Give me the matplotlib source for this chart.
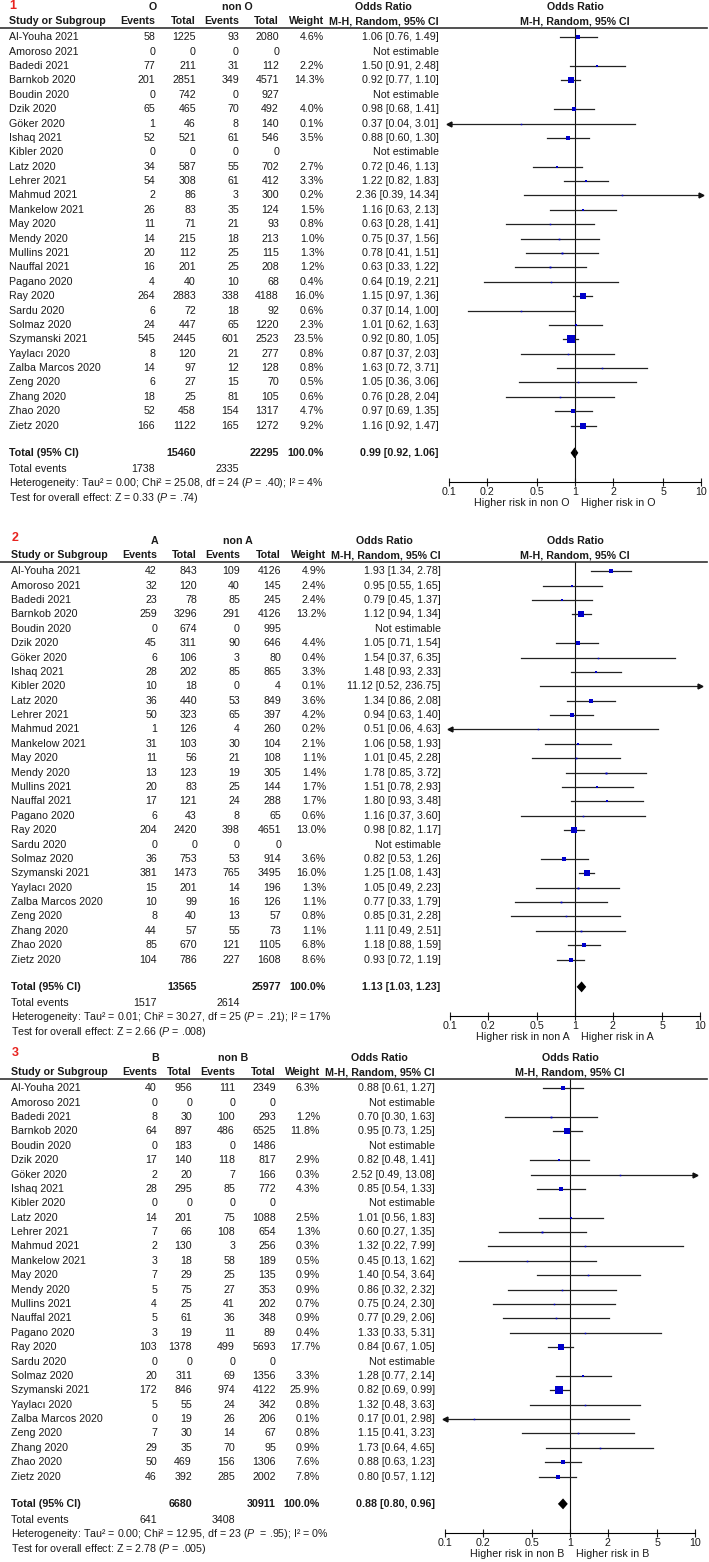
import matplotlib
matplotlib.use('Agg')
import matplotlib.pyplot as plt
import matplotlib.transforms as mtrans
import numpy as np

plt.rcParams['font.family'] = ['Liberation Sans', 'DejaVu Sans']
plt.rcParams['mathtext.fontset'] = 'custom'
plt.rcParams['mathtext.rm'] = 'Liberation Sans'
plt.rcParams['mathtext.it'] = 'Liberation Sans:italic'

# ---- data ----
studies = ["Al-Youha 2021", "Amoroso 2021", "Badedi 2021", "Barnkob 2020", "Boudin 2020",
           "Dzik 2020", "Göker 2020", "Ishaq 2021", "Kibler 2020", "Latz 2020",
           "Lehrer 2021", "Mahmud 2021", "Mankelow 2021", "May 2020", "Mendy 2020",
           "Mullins 2021", "Nauffal 2021", "Pagano 2020", "Ray 2020", "Sardu 2020",
           "Solmaz 2020", "Szymanski 2021", "Yaylacı 2020", "Zalba Marcos 2020", "Zeng 2020",
           "Zhang 2020", "Zhao 2020", "Zietz 2020"]

# panel 1: O vs non O
o_ev = [58, 0, 77, 201, 0, 65, 1, 52, 0, 34, 54, 2, 26, 11, 14, 20, 16, 4, 264, 6, 24, 545, 8, 14, 6, 18, 52, 166]
o_tot = [1225, 0, 211, 2851, 742, 465, 46, 521, 0, 587, 308, 86, 83, 71, 215, 112, 201, 40, 2883, 72, 447, 2445, 120, 97, 27, 25, 458, 1122]
nono_ev = [93, 0, 31, 349, 0, 70, 8, 61, 0, 55, 61, 3, 35, 21, 18, 25, 25, 10, 338, 18, 65, 601, 21, 12, 15, 81, 154, 165]
nono_tot = [2080, 0, 112, 4571, 927, 492, 140, 546, 0, 702, 412, 300, 124, 93, 213, 115, 208, 68, 4188, 92, 1220, 2523, 277, 128, 70, 105, 1317, 1272]
o_w = [4.6, None, 2.2, 14.3, None, 4.0, 0.1, 3.5, None, 2.7, 3.3, 0.2, 1.5, 0.8, 1.0, 1.3, 1.2, 0.4, 16.0, 0.6, 2.3, 23.5, 0.8, 0.8, 0.5, 0.6, 4.7, 9.2]
o_or = [1.06, None, 1.50, 0.92, None, 0.98, 0.37, 0.88, None, 0.72, 1.22, 2.36, 1.16, 0.63, 0.75, 0.78, 0.63, 0.64, 1.15, 0.37, 1.01, 0.92, 0.87, 1.63, 1.05, 0.76, 0.97, 1.16]
o_lo = [0.76, None, 0.91, 0.77, None, 0.68, 0.04, 0.60, None, 0.46, 0.82, 0.39, 0.63, 0.28, 0.37, 0.41, 0.33, 0.19, 0.97, 0.14, 0.62, 0.80, 0.37, 0.72, 0.36, 0.28, 0.69, 0.92]
o_hi = [1.49, None, 2.48, 1.10, None, 1.41, 3.01, 1.30, None, 1.13, 1.83, 14.34, 2.13, 1.41, 1.56, 1.51, 1.22, 2.21, 1.36, 1.00, 1.63, 1.05, 2.03, 3.71, 3.06, 2.04, 1.35, 1.47]
o_total = [15460, 22295, 1738, 2335]
o_pooled = [0.99, 0.92, 1.06]
o_het = "Heterogeneity: Tau² = 0.00; Chi² = 25.08, df = 24 ($P$ = .40); I² = 4%"
o_test = "Test for overall effect: Z = 0.33 ($P$ = .74)"

# panel 2: A vs non A
a_ev = [42, 32, 23, 259, 0, 45, 6, 28, 10, 36, 50, 1, 31, 11, 13, 20, 17, 6, 204, 0, 36, 381, 15, 10, 8, 44, 85, 104]
a_tot = [843, 120, 78, 3296, 674, 311, 106, 202, 18, 440, 323, 126, 103, 56, 123, 83, 121, 43, 2420, 0, 753, 1473, 201, 99, 40, 57, 670, 786]
nona_ev = [109, 40, 85, 291, 0, 90, 3, 85, 0, 53, 65, 4, 30, 21, 19, 25, 24, 8, 398, 0, 53, 765, 14, 16, 13, 55, 121, 227]
nona_tot = [4126, 145, 245, 4126, 995, 646, 80, 865, 4, 849, 397, 260, 104, 108, 305, 144, 288, 65, 4651, 0, 914, 3495, 196, 126, 57, 73, 1105, 1608]
a_w = [4.9, 2.4, 2.4, 13.2, None, 4.4, 0.4, 3.3, 0.1, 3.6, 4.2, 0.2, 2.1, 1.1, 1.4, 1.7, 1.7, 0.6, 13.0, None, 3.6, 16.0, 1.3, 1.1, 0.8, 1.1, 6.8, 8.6]
a_or = [1.93, 0.95, 0.79, 1.12, None, 1.05, 1.54, 1.48, 11.12, 1.34, 0.94, 0.51, 1.06, 1.01, 1.78, 1.51, 1.80, 1.16, 0.98, None, 0.82, 1.25, 1.05, 0.77, 0.85, 1.11, 1.18, 0.93]
a_lo = [1.34, 0.55, 0.45, 0.94, None, 0.71, 0.37, 0.93, 0.52, 0.86, 0.63, 0.06, 0.58, 0.45, 0.85, 0.78, 0.93, 0.37, 0.82, None, 0.53, 1.08, 0.49, 0.33, 0.31, 0.49, 0.88, 0.72]
a_hi = [2.78, 1.65, 1.37, 1.34, None, 1.54, 6.35, 2.33, 236.75, 2.08, 1.40, 4.63, 1.93, 2.28, 3.72, 2.93, 3.48, 3.60, 1.17, None, 1.26, 1.43, 2.23, 1.79, 2.28, 2.51, 1.59, 1.19]
a_total = [13565, 25977, 1517, 2614]
a_pooled = [1.13, 1.03, 1.23]
a_het = "Heterogeneity: Tau² = 0.01; Chi² = 30.27, df = 25 ($P$ = .21); I² = 17%"
a_test = "Test for overall effect: Z = 2.66 ($P$ = .008)"

# panel 3: B vs non B
b_ev = [40, 0, 8, 64, 0, 17, 2, 28, 0, 14, 7, 2, 3, 7, 5, 4, 5, 3, 103, 0, 20, 172, 5, 0, 7, 29, 50, 46]
b_tot = [956, 0, 30, 897, 183, 140, 20, 295, 0, 201, 66, 130, 18, 29, 75, 25, 61, 19, 1378, 0, 311, 846, 55, 19, 30, 35, 469, 392]
nonb_ev = [111, 0, 100, 486, 0, 118, 7, 85, 0, 75, 108, 3, 58, 25, 27, 41, 36, 11, 499, 0, 69, 974, 24, 26, 14, 70, 156, 285]
nonb_tot = [2349, 0, 293, 6525, 1486, 817, 166, 772, 0, 1088, 654, 256, 189, 135, 353, 202, 348, 89, 5693, 0, 1356, 4122, 342, 206, 67, 95, 1306, 2002]
b_w = [6.3, None, 1.2, 11.8, None, 2.9, 0.3, 4.3, None, 2.5, 1.3, 0.3, 0.5, 0.9, 0.9, 0.7, 0.9, 0.4, 17.7, None, 3.3, 25.9, 0.8, 0.1, 0.8, 0.9, 7.6, 7.8]
b_or = [0.88, None, 0.70, 0.95, None, 0.82, 2.52, 0.85, None, 1.01, 0.60, 1.32, 0.45, 1.40, 0.86, 0.75, 0.77, 1.33, 0.84, None, 1.28, 0.82, 1.32, 0.17, 1.15, 1.73, 0.88, 0.80]
b_lo = [0.61, None, 0.30, 0.73, None, 0.48, 0.49, 0.54, None, 0.56, 0.27, 0.22, 0.13, 0.54, 0.32, 0.24, 0.29, 0.33, 0.67, None, 0.77, 0.69, 0.48, 0.01, 0.41, 0.64, 0.63, 0.57]
b_hi = [1.27, None, 1.63, 1.25, None, 1.41, 13.08, 1.33, None, 1.83, 1.35, 7.99, 1.62, 3.64, 2.32, 2.30, 2.06, 5.31, 1.05, None, 2.14, 0.99, 3.63, 2.98, 3.23, 4.65, 1.23, 1.12]
b_total = [6680, 30911, 641, 3408]
b_pooled = [0.88, 0.80, 0.96]
b_het = "Heterogeneity: Tau² = 0.00; Chi² = 12.95, df = 23 ($P$  = .95); I² = 0%"
b_test = "Test for overall effect: Z = 2.78 ($P$ = .005)"

# ---- layout (pixels) ----
W, H = 709, 1562
DY = 14.38
FS = 7.7
TXT = '#1a1a1a'
BLUE = '#0000cc'

fig = plt.figure(figsize=(W / 100, H / 100), dpi=100)


def panel(num, grp, ev1, tot1, ev2, tot2, wt, orv, lo, hi, total, pooled, het, test,
          y0, cols, x01, x10, num_row):
    n = len(studies)
    top = y0 - 0.62 * DY
    bot = y0 + (n + 2.9) * DY
    ax = fig.add_axes([x01 / W, 1 - bot / H, (x10 - x01) / W, (bot - top) / H])
    ax.set_xscale('log')
    ax.set_xlim(0.1, 10)
    ax.set_ylim(n + 2.9, -0.62)
    ax.patch.set_visible(False)
    for s in ['top', 'right', 'left']:
        ax.spines[s].set_visible(False)
    ax.spines['bottom'].set_linewidth(0.8)
    ax.set_xticks([0.1, 0.2, 0.5, 1, 2, 5, 10])
    ax.set_xticklabels(['0.1', '0.2', '0.5', '1', '2', '5', '10'])
    ax.xaxis.set_minor_locator(matplotlib.ticker.NullLocator())
    ax.tick_params(axis='x', direction='inout', length=6, width=0.8, pad=1,
                   labelsize=FS, colors=TXT)
    ax.set_yticks([])
    ax.axvline(1, color='#111111', lw=0.8)

    tr = mtrans.blended_transform_factory(fig.transFigure, ax.transData)

    def t(x, row, s, ha='right', bold=False, **kw):
        ax.text(x / W, row, s, transform=tr, ha=ha, va='center', fontsize=FS,
                fontweight='bold' if bold else 'normal', color=TXT, clip_on=False, **kw)

    xn, xe1, xt1, xe2, xt2, xw, xor = cols
    # headers
    ax.text(xn / W + 0.001, num_row, str(num), transform=tr, ha='left', va='center',
            fontsize=9, fontweight='bold', color='#e8231f', clip_on=False)
    t(xe1 - 2, -2.1, grp, ha='center', bold=True)
    t(xe2 - 2, -2.1, 'non ' + grp, ha='center', bold=True)
    t(xor - 56, -2.1, 'Odds Ratio', ha='center', bold=True)
    ax.text(1, -2.1, 'Odds Ratio', ha='center', va='center', fontsize=FS,
            fontweight='bold', color=TXT, clip_on=False)
    t(xn, -1.1, 'Study or Subgroup', ha='left', bold=True)
    t(xe1, -1.1, 'Events', bold=True)
    t(xt1, -1.1, 'Total', bold=True)
    t(xe2, -1.1, 'Events', bold=True)
    t(xt2, -1.1, 'Total', bold=True)
    t(xw, -1.1, 'Weight', bold=True)
    t(xor, -1.1, 'M-H, Random, 95% CI', bold=True)
    ax.text(1, -1.1, 'M-H, Random, 95% CI', ha='center', va='center', fontsize=FS,
            fontweight='bold', color=TXT, clip_on=False)
    ax.plot([0.0, 0.997], [-0.62, -0.62], transform=tr, color='#333333', lw=1.2,
            clip_on=False)

    # study rows
    for i, name in enumerate(studies):
        t(xn, i, name, ha='left')
        t(xe1, i, str(ev1[i]))
        t(xt1, i, str(tot1[i]))
        t(xe2, i, str(ev2[i]))
        t(xt2, i, str(tot2[i]))
        if orv[i] is None:
            t(xor, i, 'Not estimable')
            continue
        t(xw, i, f'{wt[i]:.1f}%')
        t(xor, i, f'{orv[i]:.2f} [{lo[i]:.2f}, {hi[i]:.2f}]')
        a, b = max(lo[i], 0.1), min(hi[i], 10)
        ax.plot([a, b], [i, i], color='#222222', lw=0.9, clip_on=False)
        if lo[i] < 0.1:
            ax.plot(0.1, i, marker='<', ms=3.5, color='#111111', clip_on=False)
        if hi[i] > 10:
            ax.plot(10, i, marker='>', ms=3.5, color='#111111', clip_on=False)
        side = max(1.5, 1.65 * np.sqrt(wt[i]))
        ax.plot(orv[i], i, marker='s', ms=side * 0.72, color=BLUE, mec=BLUE, mew=0)

    # totals
    rt = n + 0.9
    t(xn, rt, 'Total (95% CI)', ha='left', bold=True)
    t(xt1, rt, str(total[0]), bold=True)
    t(xt2, rt, str(total[1]), bold=True)
    t(xw, rt, '100.0%', bold=True)
    t(xor, rt, f'{pooled[0]:.2f} [{pooled[1]:.2f}, {pooled[2]:.2f}]', bold=True)
    hd = 0.38
    ax.fill([pooled[1], pooled[0], pooled[2], pooled[0]], [rt, rt - hd, rt, rt + hd],
            color='black', lw=0)
    t(xn, n + 2.03, 'Total events', ha='left')
    t(xe1, n + 2.03, str(total[2]))
    t(xe2, n + 2.03, str(total[3]))
    t(xn, n + 3.02, het, ha='left')
    t(xn, n + 4.03, test, ha='left')

    # direction labels
    ax.annotate('Higher risk in non ' + grp, xy=(1, n + 4.4), xytext=(-4, 0),
                textcoords='offset points', ha='right', va='center', fontsize=FS,
                color=TXT, annotation_clip=False)
    ax.annotate('Higher risk in ' + grp, xy=(1, n + 4.4), xytext=(4, 0),
                textcoords='offset points', ha='left', va='center', fontsize=FS,
                color=TXT, annotation_clip=False)


panel(1, 'O', o_ev, o_tot, nono_ev, nono_tot, o_w, o_or, o_lo, o_hi, o_total, o_pooled,
      o_het, o_test, 37.3, (9, 155, 196, 239, 279, 324, 439), 449.3, 701, -2.15)
panel(2, 'A', a_ev, a_tot, nona_ev, nona_tot, a_w, a_or, a_lo, a_hi, a_total, a_pooled,
      a_het, a_test, 571.3, (11, 157, 197, 240, 281, 326, 440.7), 450, 700, -2.35)
panel(3, 'B', b_ev, b_tot, nonb_ev, nonb_tot, b_w, b_or, b_lo, b_hi, b_total, b_pooled,
      b_het, b_test, 1088.3, (11, 157, 192, 235, 276, 320, 435), 445, 695, -2.45)

fig.savefig('out.png', dpi=100, facecolor='white')
